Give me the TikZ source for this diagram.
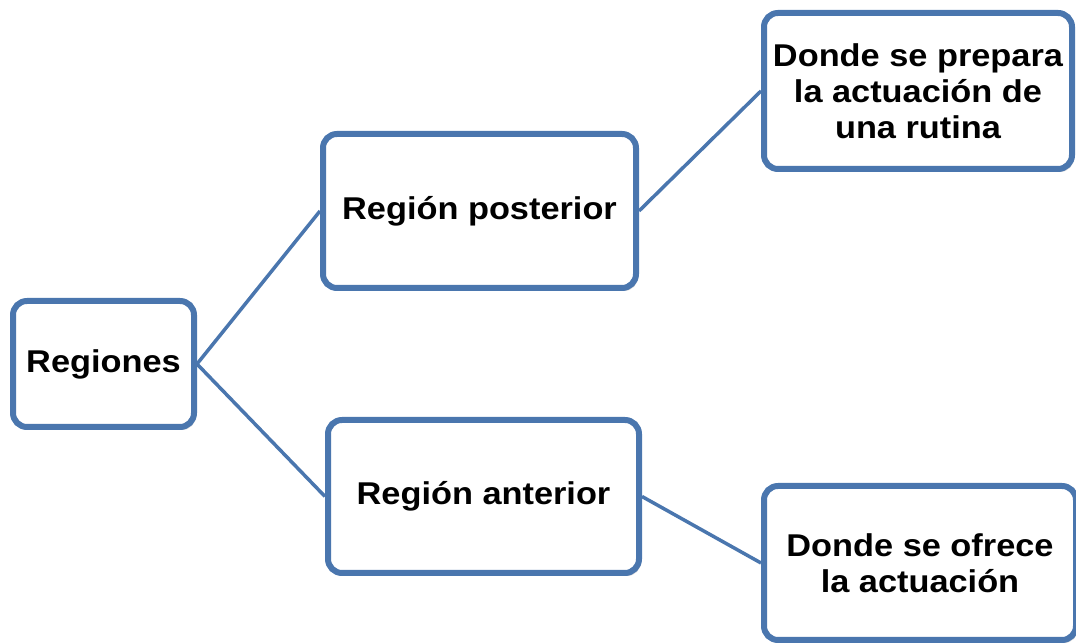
\documentclass[tikz,border=0pt]{standalone}
\usepackage{fontspec}
\newfontfamily\boxfont{Liberation Sans}[FakeStretch=1.09]
\usetikzlibrary{shadows}
\definecolor{ofblue}{HTML}{4A76AE}
\tikzset{
  box/.style={draw=ofblue, line width=6pt, rounded corners=14pt, fill=white,
    align=center, inner sep=0pt, font=\boxfont\bfseries\fontsize{31.5}{36}\selectfont,
    drop shadow={shadow xshift=2pt, shadow yshift=-3pt, opacity=0.3, fill=gray}},
  link/.style={draw=ofblue, line width=3.5pt}
}
\begin{document}
\begin{tikzpicture}[x=1pt,y=1pt]
\useasboundingbox (0,0) rectangle (1076,644);
\node[box, minimum width=181pt, minimum height=126pt] (reg) at (103.5,280) {Regiones};
\node[box, minimum width=313pt, minimum height=154pt] (post) at (479.5,433) {Región posterior};
\node[box, minimum width=311pt, minimum height=153pt] (ant) at (483.5,147.5) {Región anterior};
\node[box, minimum width=308pt, minimum height=156pt] (prep) at (918,553) {Donde se prepara\\la actuación de\\una rutina};
\node[box, minimum width=312pt, minimum height=154pt] (ofr) at (920,81) {Donde se ofrece\\la actuación};
\draw[link] (reg.east) -- (post.west);
\draw[link] (reg.east) -- (ant.west);
\draw[link] (post.east) -- (prep.west);
\draw[link] (ant.east) -- (ofr.west);
\end{tikzpicture}
\end{document}
